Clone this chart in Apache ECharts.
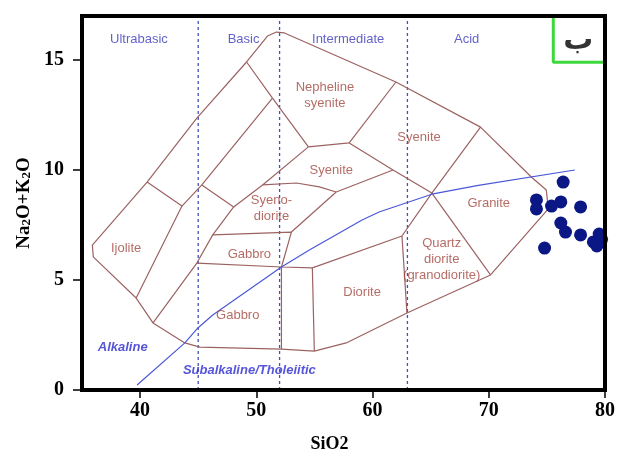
<!DOCTYPE html>
<html>
<head>
<meta charset="utf-8">
<script src="https://cdn.jsdelivr.net/npm/echarts@6/dist/echarts.min.js"></script>
<style>
  html, body { margin: 0; padding: 0; background: #fff; }
  #chart { width: 618px; height: 458px; }
</style>
</head>
<body>
<div id="chart"></div>
<script>
// Axis ticks
const siO2Ticks = [40, 50, 60, 70, 80];
const alkaliTicks = [0, 5, 10, 15];

// SiO2 division boundaries and the names of the four divisions
const divisionSiO2 = [45, 52, 63];
const divisionNames = ['Ultrabasic', 'Basic', 'Intermediate', 'Acid'];
const divisionNameSiO2 = [39.9, 48.9, 57.9, 68.1];
const divisionNameAlkali = 15.95;

// Outer envelope of the classification fields [SiO2, Na2O+K2O]
const outerBoundary = [
  [35.89, 6.59], [35.97, 6.05], [39.66, 4.18], [41.11, 3.05], [43.85, 2.14],
  [45.14, 1.95], [52.16, 1.86], [54.99, 1.77], [57.73, 2.14], [62.96, 3.5],
  [70.15, 5.23], [75.12, 8.23], [74.95, 9.09], [73.66, 9.68], [69.29, 11.95],
  [62.01, 14.0], [52.42, 16.23], [51.73, 16.27], [50.96, 16.09], [49.16, 14.91],
  [44.88, 12.36], [40.6, 9.45], [35.89, 6.59]
];

// Internal field boundaries
const fieldLines = [
  [[40.6, 9.45], [43.6, 8.36], [39.66, 4.18]],
  [[43.6, 8.36], [45.31, 9.32], [51.39, 13.27]],
  [[49.16, 14.91], [51.39, 13.27], [54.48, 11.05]],
  [[45.31, 9.32], [48.05, 8.32]],
  [[41.11, 3.05], [44.88, 5.77], [46.25, 7.05], [48.05, 8.32]],
  [[48.05, 8.32], [50.54, 9.32], [54.48, 11.05], [57.99, 11.23], [62.01, 14.0]],
  [[50.54, 9.32], [53.45, 9.41], [55.42, 9.23], [56.87, 9.0]],
  [[57.99, 11.23], [61.76, 10.0], [65.1, 8.95]],
  [[56.87, 9.0], [61.76, 10.0]],
  [[56.87, 9.0], [53.02, 7.18]],
  [[46.25, 7.05], [53.02, 7.18], [52.16, 5.59]],
  [[44.88, 5.77], [52.16, 5.59], [54.82, 5.55], [62.53, 7.0], [65.1, 8.95], [69.29, 11.95]],
  [[52.16, 5.59], [52.16, 1.86]],
  [[54.82, 5.55], [54.99, 1.77]],
  [[62.53, 7.0], [62.96, 3.5]],
  [[65.1, 8.95], [70.15, 5.23]]
];

// Alkaline / subalkaline dividing line
const alkalineDivide = [
  [39.74, 0.23], [43.85, 2.14], [44.97, 2.82], [46.25, 3.41], [52.16, 5.59],
  [54.56, 6.36], [59.1, 7.73], [60.56, 8.09], [65.1, 8.9], [69.1, 9.3], [77.4, 10.0]
];

// Rock field names and their anchor points
const fieldNames = ['Ijolite', 'Nepheline\nsyenite', 'Syenite', 'Syenite', 'Syeno-\ndiorite',
  'Gabbro', 'Gabbro', 'Diorite', 'Quartz\ndiorite\n(granodiorite)', 'Granite'];
const fieldNameSiO2 = [38.8, 55.9, 64.0, 56.45, 51.3, 49.4, 48.4, 59.1, 65.95, 70.0];
const fieldNameAlkali = [6.45, 13.4, 11.5, 10.0, 8.27, 6.14, 3.41, 4.45, 5.95, 8.5];

// Series names
const seriesNames = ['Alkaline', 'Subalkaline/Tholeiitic'];
const seriesNameSiO2 = [38.5, 49.4];
const seriesNameAlkali = [1.95, 0.9];

// Samples
const sampleSiO2 = [76.4, 74.1, 74.1, 75.4, 76.2, 77.9, 76.2, 76.6, 77.9, 74.8, 79.0, 79.5, 79.3, 79.7];
const sampleAlkali = [9.45, 8.64, 8.23, 8.36, 8.55, 8.32, 7.59, 7.18, 7.05, 6.45, 6.73, 7.09, 6.55, 6.85];

// Panel tag
const tagBox = [[75.55, 17], [75.55, 14.9], [80, 14.9]];
const tagText = 'ب';
const tagPoint = [77.7, 15.85];

const chart = echarts.init(document.getElementById('chart'));

const serif = 'Liberation Serif';
const sans = 'Liberation Sans';
const fieldColor = '#9c6262';

const series = [];

// Division lines
divisionSiO2.forEach(x => {
  series.push({
    type: 'line', silent: true, showSymbol: false, z: 1,
    data: [[x, 0], [x, 17]],
    lineStyle: { color: '#4650b4', width: 1.3, type: [3, 3] }
  });
});

// Field envelope and internal boundaries
[outerBoundary].concat(fieldLines).forEach(line => {
  series.push({
    type: 'line', silent: true, showSymbol: false, z: 2,
    data: line,
    lineStyle: { color: fieldColor, width: 1.2 }
  });
});

// Alkaline / subalkaline line
series.push({
  type: 'line', silent: true, showSymbol: false, z: 3,
  data: alkalineDivide,
  lineStyle: { color: '#4a58d8', width: 1.2 }
});

// Text labels drawn as invisible points
function textSeries(names, xs, ys, label) {
  return {
    type: 'scatter', silent: true, symbolSize: 1, z: 4,
    itemStyle: { color: 'rgba(0,0,0,0)' },
    data: names.map((n, i) => ({ name: n, value: [xs[i], Array.isArray(ys) ? ys[i] : ys] })),
    label: Object.assign({ show: true, position: 'inside', formatter: '{b}' }, label)
  };
}

series.push(textSeries(divisionNames, divisionNameSiO2, divisionNameAlkali,
  { color: '#3a3ab8', fontSize: 13, fontFamily: sans }));
series.push(textSeries(fieldNames, fieldNameSiO2, fieldNameAlkali,
  { color: '#a3473e', fontSize: 13, fontFamily: sans, lineHeight: 16 }));
series.push(textSeries(seriesNames, seriesNameSiO2, seriesNameAlkali,
  { color: '#2a2ad0', fontSize: 13, fontFamily: sans, fontStyle: 'italic', fontWeight: 'bold' }));

// Samples
series.push({
  type: 'scatter', z: 5, symbolSize: 13,
  itemStyle: { color: '#0a1784', opacity: 1 },
  data: sampleSiO2.map((x, i) => [x, sampleAlkali[i]])
});

// Panel tag box and letter
series.push({
  type: 'line', silent: true, showSymbol: false, z: 6,
  data: tagBox,
  lineStyle: { color: '#3cd83c', width: 3 }
});
series.push(textSeries([tagText], [tagPoint[0]], [tagPoint[1]],
  { color: '#000', fontSize: 30, fontFamily: 'DejaVu Sans', fontWeight: 'bold' }));

chart.setOption({
  animation: false,
  backgroundColor: '#fff',
  grid: {
    left: 82, right: 11, top: 16, bottom: 68,
    show: true, z: 10,
    borderColor: '#000', borderWidth: 4, backgroundColor: 'rgba(0,0,0,0)'
  },
  xAxis: {
    type: 'value', min: 35, max: 80,
    splitLine: { show: false },
    axisLine: { show: false },
    axisTick: { show: true, customValues: siO2Ticks, length: 8, inside: false,
      lineStyle: { color: '#000', width: 1.5 } },
    axisLabel: { customValues: siO2Ticks, color: '#000', fontFamily: serif,
      fontWeight: 'bold', fontSize: 20, margin: 11 },
    name: 'SiO2', nameLocation: 'middle', nameGap: 45,
    nameTextStyle: { color: '#000', fontFamily: serif, fontWeight: 'bold', fontSize: 18,
      padding: [0, 28, 0, 0] }
  },
  yAxis: {
    type: 'value', min: 0, max: 17,
    splitLine: { show: false },
    axisLine: { show: false },
    axisTick: { show: true, customValues: alkaliTicks, length: 9, inside: false,
      lineStyle: { color: '#000', width: 1.5 } },
    axisLabel: { customValues: alkaliTicks, color: '#000', fontFamily: serif,
      fontWeight: 'bold', fontSize: 20, margin: 18 },
    name: '{a|Na}{s|2}{a|O+K}{s|2}{a|O}', nameLocation: 'middle', nameGap: 48, nameRotate: 90,
    nameTextStyle: {
      rich: {
        a: { color: '#000', fontFamily: serif, fontWeight: 'bold', fontSize: 19 },
        s: { color: '#000', fontFamily: serif, fontWeight: 'bold', fontSize: 13, padding: [6, 0, 0, 0] }
      }
    }
  },
  series: series
});
</script>
</body>
</html>
